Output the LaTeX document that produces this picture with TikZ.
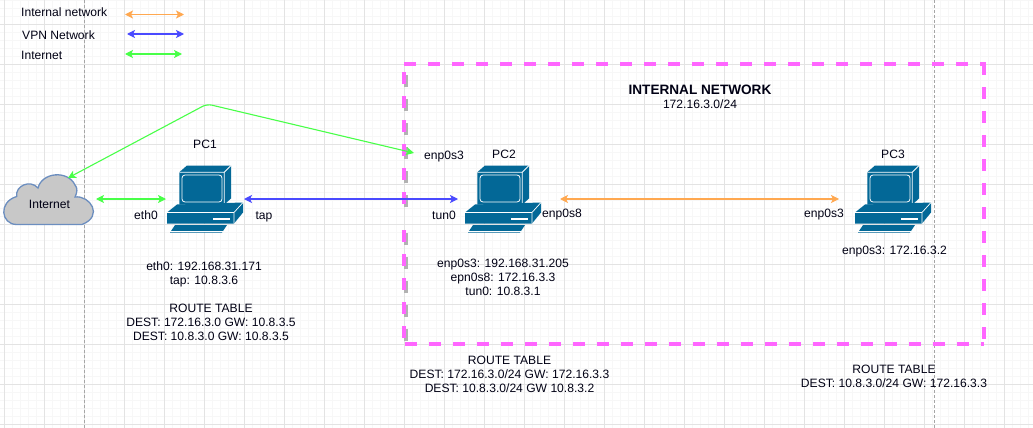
\documentclass[tikz,border=0pt]{standalone}
\usepackage{fontspec}
\setmainfont{Liberation Sans}
\usepackage{xcolor}
\usetikzlibrary{arrows.meta}

\definecolor{pcblue}{HTML}{036897}
\definecolor{lanorange}{HTML}{FFA850}
\definecolor{vpnblue}{HTML}{4A4AFF}
\definecolor{netgreen}{HTML}{48FF48}
\definecolor{boxpink}{HTML}{FF66FF}
\definecolor{cloudfill}{HTML}{C8C8C8}
\definecolor{cloudline}{HTML}{6C8EBF}

\tikzset{
    lbl/.style={font=\fontsize{12.1}{14}\selectfont, inner sep=0pt, align=center, text=black!92!blue},
    pcbox/.style={minimum width=78pt, minimum height=67pt, inner sep=0pt, outer sep=0pt},
    link/.style={line width=1.1pt, {Stealth[length=8pt,width=8pt,inset=2pt]}-{Stealth[length=8pt,width=8pt,inset=2pt]}},
    boxdash/.style={boxpink, line width=3.5pt, dash pattern=on 12pt off 12pt},
    pcicon/.pic={
        % origin is the middle of the icon
        \begin{scope}[shift={(-38,-33.5)}]
            \fill[pcblue] (12.3,6.7) -- (20,0) -- (64,0) -- (64,33) -- (57.3,39) -- (12.3,39) -- cycle;
            \draw[white, line width=0.8pt] (12.3,6.7) -- (57.3,6.7) -- (64,0) (57.3,6.7) -- (57.3,39);
            \draw[white, line width=0.8pt, rounded corners=3pt] (15,9.5) rectangle (55,36.5);
            \fill[pcblue] (0,47) -- (10,39) -- (76,37) -- (76,47) -- (67,58) -- (0,58) -- cycle;
            \draw[white, line width=0.7pt] (0,47) -- (67,47) -- (76,37) (67,47) -- (67,58);
            \fill[white] (46,52) rectangle (63,54);
            \fill[pcblue] (3,67) -- (8,59.5) -- (60,59.5) -- (55,67) -- cycle;
            \draw[white, line width=0.5pt] (3,65.5) -- (56,65.5);
        \end{scope}
    }
}

\begin{document}
\begin{tikzpicture}[x=1pt, y=-1pt]
    \useasboundingbox (0,0) rectangle (1033,428);
    \fill[white] (0,0) rectangle (1033,428);

    % grid of the drawing sheet
    \foreach \i in {0,...,128} {
        \draw[black!3, line width=0.6pt] ({4+8*\i},0) -- ({4+8*\i},428);
    }
    \foreach \j in {0,...,53} {
        \draw[black!3, line width=0.6pt] (0,{8*\j}) -- (1033,{8*\j});
    }
    \foreach \i in {0,...,25} {
        \draw[black!11, line width=0.8pt] ({4+40*\i},0) -- ({4+40*\i},428);
    }
    \foreach \j in {0,...,10} {
        \draw[black!11, line width=0.8pt] (0,{24+40*\j}) -- (1033,{24+40*\j});
    }
    \draw[black!35, line width=0.8pt, dash pattern=on 3pt off 2pt] (84,0) -- (84,428);
    \draw[black!35, line width=0.8pt, dash pattern=on 3pt off 2pt] (934,0) -- (934,428);

    % internal network box
    \draw[boxdash] (404,64) -- (986,64);
    \draw[boxdash] (984,63) -- (984,344);
    \draw[boxdash] (405,344) -- (984,344);
    \foreach \y in {72,96,120,144,168,192,230,254,278,302,326} {
        \fill[black!30] (404.3,\y+3) rectangle (407.7,\y+15);
        \fill[boxpink] (402.3,\y) rectangle (406.3,\y+12);
    }

    % legend
    \node[lbl, anchor=west] (keylan) at (21,12) {Internal network};
    \node[lbl, anchor=west] (keyvpn) at (22,35) {VPN Network};
    \node[lbl, anchor=west] (keynet) at (21,55) {Internet};
    \coordinate (keylana) at (125,14.5);
    \coordinate (keylanb) at (184,14.5);
    \coordinate (keyvpna) at (127,34);
    \coordinate (keyvpnb) at (184,34);
    \coordinate (keyneta) at (125,54);
    \coordinate (keynetb) at (182,54);
    \draw[link, lanorange] (keylana) -- (keylanb);
    \draw[link, vpnblue] (keyvpna) -- (keyvpnb);
    \draw[link, netgreen] (keyneta) -- (keynetb);

    % cloud
    \node[minimum width=94pt, minimum height=42pt, inner sep=0pt, outer sep=0pt] (inet) at (49,199) {};
    \draw[cloudline, fill=cloudfill, line width=1.3pt]
        (16.7,224.5) .. controls (1,224.5) and (-2,202) .. (16.7,196.5)
        .. controls (15,186) and (30,179) .. (38,188)
        .. controls (42,172) and (68,170) .. (75,185)
        .. controls (78,188) and (77,193) .. (75,197)
        .. controls (90,195) and (104,216) .. (82,224.5) -- cycle;
    \node[lbl] (inettxt) at (49.5,204.5) {Internet};

    % computers
    \node[pcbox] (pc1) at (205,199) {};
    \node[pcbox] (pc2) at (503,199) {};
    \node[pcbox] (pc3) at (893,199) {};
    \pic at (pc1) {pcicon};
    \pic at (pc2) {pcicon};
    \pic at (pc3) {pcicon};
    \node[lbl] (pc1name) at (205,144) {PC1};
    \node[lbl] (pc2name) at (504,154) {PC2};
    \node[lbl] (pc3name) at (893,154) {PC3};

    % links
    \coordinate (gbend) at (207,104);
    \coordinate (gend) at (414,153);
    \draw[link, netgreen, rounded corners=5pt] (inet.48) -- (gbend) -- (gend);
    \draw[link, netgreen] (inet.east) -- (pc1.west);
    \draw[link, vpnblue, shorten >=6pt] (pc1.east) -- (pc2.west);
    \draw[link, lanorange, shorten <=18pt, shorten >=15pt] (pc2.east) -- (pc3.west);

    % interface names
    \node[lbl] (eth) at (146,215) {eth0};
    \node[lbl] (tap) at (264,217) {tap};
    \node[lbl] (pc2a) at (444,157) {enp0s3};
    \node[lbl] (tun) at (444,215) {tun0};
    \node[lbl] (pc2b) at (562,215) {enp0s8};
    \node[lbl] (pc3a) at (824,215) {enp0s3};

    % addresses
    \node[lbl] (pc1addr) at (204,274) {eth0: 192.168.31.171\\tap: 10.8.3.6};
    \node[lbl] (pc1route) at (211,322) {ROUTE TABLE\\DEST: 172.16.3.0 GW: 10.8.3.5\\DEST: 10.8.3.0 GW: 10.8.3.5};
    \node[lbl] (pc2addr) at (503,277) {enp0s3: 192.168.31.205\\epn0s8: 172.16.3.3\\tun0: 10.8.3.1};
    \node[lbl] (pc2route) at (509.5,374) {ROUTE TABLE\\DEST: 172.16.3.0/24 GW: 172.16.3.3\\DEST: 10.8.3.0/24 GW 10.8.3.2};
    \node[lbl] (pc3addr) at (894.5,252) {enp0s3: 172.16.3.2};
    \node[lbl] (pc3route) at (894,376) {ROUTE TABLE\\DEST: 10.8.3.0/24 GW: 172.16.3.3};
    \node[lbl] (netname) at (700,97) {{\fontsize{13.6}{14}\selectfont\textbf{INTERNAL NETWORK}}\\172.16.3.0/24};
\end{tikzpicture}
\end{document}
